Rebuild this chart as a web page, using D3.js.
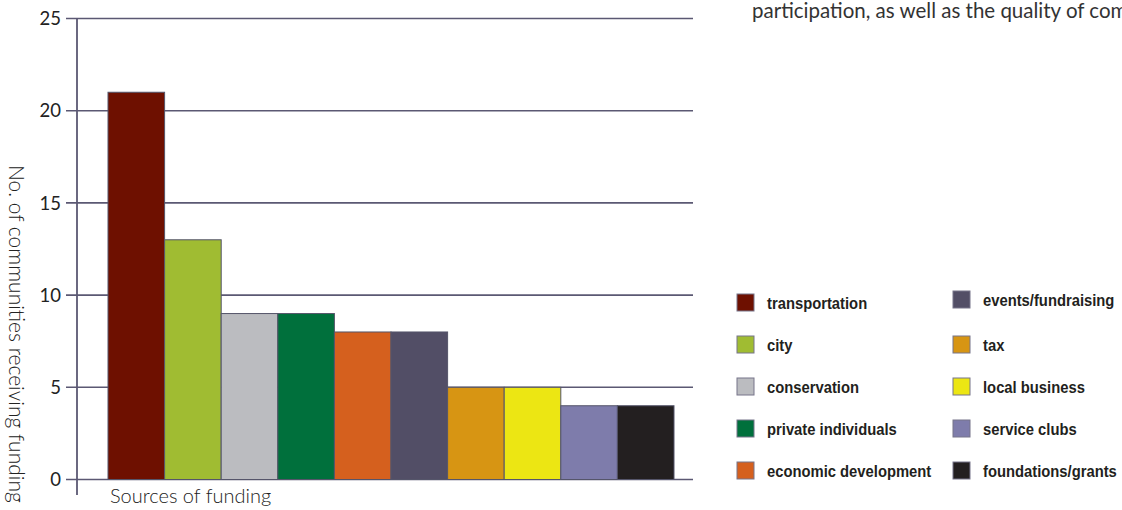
<!DOCTYPE html>
<html>
<head>
<meta charset="utf-8">
<script src="https://cdn.jsdelivr.net/npm/d3@7"></script>
<style>
  body { margin: 0; background: #fff; }
  svg { display: block; }
</style>
</head>
<body>
<svg></svg>
<script>
// data
var sources = ["transportation", "city", "conservation", "private individuals", "economic development",
               "events/fundraising", "tax", "local business", "service clubs", "foundations/grants"];
var counts = [21, 13, 9, 9, 8, 8, 5, 5, 4, 4];
var colours = ["#6e1000", "#a0bc32", "#bbbcc0", "#00703c", "#d5601e",
               "#524e66", "#d79513", "#ece613", "#7e7cab", "#231f20"];
var yTicks = [0, 5, 10, 15, 20, 25];

var svgW = 1122, svgH = 510;
var svg = d3.select("svg").attr("width", svgW).attr("height", svgH);

var axisCol = "#5b5873";
var lightFont = "Lato, 'Open Sans', sans-serif";

var yScale = d3.scaleLinear().domain([0, 25]).range([479.5, 18.5]);
var xScale = d3.scaleBand().domain(sources).range([108, 674]).padding(0);

// gridlines + tick marks
svg.append("g").selectAll("line")
  .data(yTicks)
  .enter().append("line")
  .attr("x1", 66).attr("x2", 693)
  .attr("y1", function(d) { return yScale(d); })
  .attr("y2", function(d) { return yScale(d); })
  .style("stroke", axisCol)
  .style("stroke-width", 1.6);

// vertical axis line
svg.append("line")
  .attr("x1", 77).attr("x2", 77)
  .attr("y1", yScale(25)).attr("y2", 495)
  .style("stroke", axisCol)
  .style("stroke-width", 1.8);

// tick labels
svg.append("g").selectAll("text")
  .data(yTicks)
  .enter().append("text")
  .attr("x", 61)
  .attr("y", function(d) { return yScale(d); })
  .attr("dy", "0.36em")
  .style("text-anchor", "end")
  .style("font-family", lightFont)
  .style("font-size", "18.5px")
  .style("fill", "#222")
  .text(function(d) { return d; });

// bars
svg.append("g").selectAll("rect")
  .data(counts)
  .enter().append("rect")
  .attr("x", function(d, i) { return xScale(sources[i]); })
  .attr("width", xScale.bandwidth())
  .attr("y", function(d) { return yScale(d); })
  .attr("height", function(d) { return yScale(0) - yScale(d); })
  .style("fill", function(d, i) { return colours[i]; })
  .style("stroke", "#55556a")
  .style("stroke-width", 1);

// axis titles
svg.append("text")
  .attr("transform", "translate(9,165) rotate(90)")
  .style("font-family", lightFont)
  .style("font-weight", 300)
  .style("font-size", "21px")
  .style("fill", "#222")
  .text("No. of communities receiving funding");

svg.append("text")
  .attr("x", 110)
  .attr("y", 503)
  .style("font-family", lightFont)
  .style("font-weight", 300)
  .style("font-size", "20px")
  .style("fill", "#222")
  .text("Sources of funding");

// stray text from the page it was cut from (cut at the right edge in the original too)
svg.append("text")
  .attr("x", 752)
  .attr("y", 18)
  .style("font-family", lightFont)
  .style("font-size", "20.5px")
  .style("fill", "#333")
  .text("participation, as well as the quality of com");

// legend, two columns of five
var legend = svg.selectAll(".legend")
  .data(sources)
  .enter().append("g")
  .attr("class", "legend")
  .attr("transform", function(d, i) {
    var col = Math.floor(i / 5), row = i % 5;
    return "translate(" + (737 + col * 216) + "," + (294 + row * 42 - (col == 1 && row == 0 ? 3 : 0)) + ")";
  });

legend.append("rect")
  .attr("width", 17).attr("height", 17)
  .style("fill", function(d, i) { return colours[i]; })
  .style("stroke", "#77758a")
  .style("stroke-width", 1);

// condensed bold look: squeeze a regular bold face sideways
legend.append("text")
  .attr("transform", "translate(30,15) scale(0.87,1)")
  .style("font-family", "'Liberation Sans', Arial, sans-serif")
  .style("font-weight", "bold")
  .style("font-size", "17px")
  .style("fill", "#231f20")
  .text(function(d) { return d; });
</script>
</body>
</html>
